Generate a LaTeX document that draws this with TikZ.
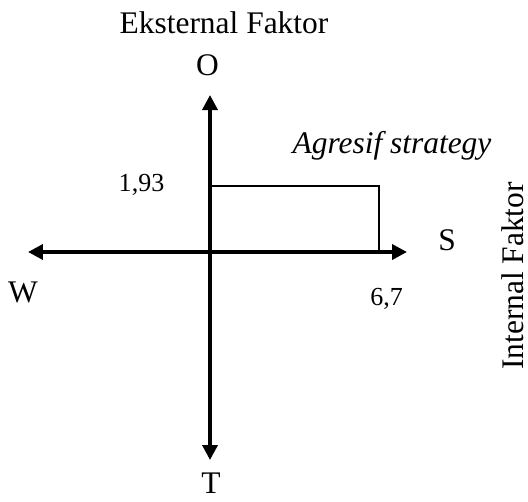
\documentclass[tikz,border=0pt]{standalone}
\usepackage{fontspec}
\setmainfont{Liberation Serif}
\usetikzlibrary{arrows.meta}

\begin{document}
\begin{tikzpicture}[x=0.02cm, y=-0.02cm, every node/.style={font=\fontsize{17.9}{21}\selectfont, inner sep=0pt}, >={Triangle[length=0.3cm, width=0.3cm]}, axis/.style={line width=2pt}, box/.style={line width=0.6pt}, num/.style={font=\fontsize{14.8}{17}\selectfont}]
	\useasboundingbox (0,0) rectangle (528,501);
	\coordinate (C) at (210,252);
	\coordinate (Wend) at (28,252); \coordinate (Send) at (407,252);
	\coordinate (Oend) at (210,95); \coordinate (Tend) at (210,460);
	\coordinate (P) at (379,186);
	\draw[axis, <->] (Wend) -- (Send);
	\draw[axis, <->] (Tend) -- (Oend);
	\draw[box] (C |- P) -- (P) -- (P |- C);
	\node[anchor=base] (ext) at (224,33) {Eksternal Faktor};
	\node[anchor=base] (O) at (207.5,75) {O};
	\node[anchor=base] (T) at (211,493) {T};
	\node[anchor=base] (W) at (23,302) {W};
	\node[anchor=base] (S) at (447,250) {S};
	\node[anchor=base, font=\fontsize{17.9}{21}\selectfont\itshape] (agr) at (392,153) {Agresif strategy};
	\node[anchor=base, num] (oval) at (141.5,191) {1,93};
	\node[anchor=base, num] (sval) at (386.5,305) {6,7};
	\node[anchor=base, rotate=90] (int) at (523,276) {Internal Faktor};
\end{tikzpicture}
\end{document}
